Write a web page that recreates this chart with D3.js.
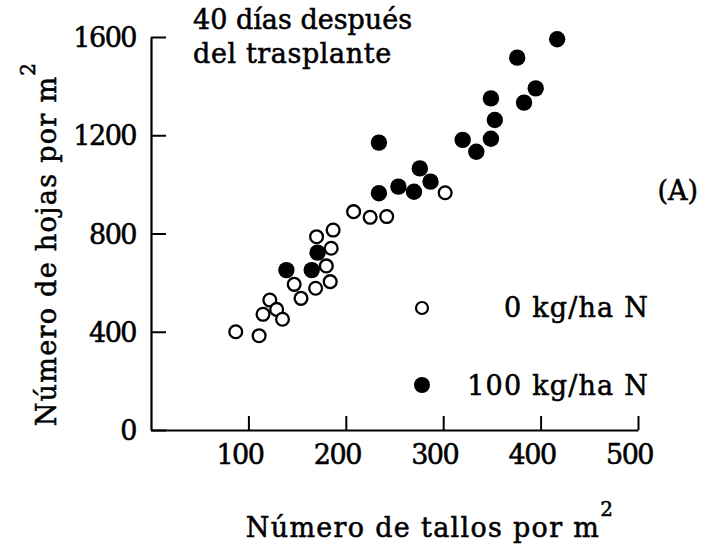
<!DOCTYPE html>
<html>
<head>
<meta charset="utf-8">
<script src="https://cdn.jsdelivr.net/npm/d3@7"></script>
<style>
  html, body { margin: 0; padding: 0; background: #fff; }
  svg text { font-family: "DejaVu Serif", "Liberation Serif", serif; fill: #000; stroke: #000; stroke-width: 0.55px; }
</style>
</head>
<body>
<svg id="chart" width="703" height="550"></svg>
<script>
// ---- data ----
const xTicks = [100, 200, 300, 400, 500];
const yTicks = [0, 400, 800, 1200, 1600];

// 0 kg/ha N (open circles)
const tallos0 = [87, 111, 115, 122, 129, 135, 147, 154, 169, 170, 180, 184, 185, 187, 208, 225, 242, 302];
const hojas0  = [400, 384, 471, 529, 491, 451, 593, 536, 577, 787, 668, 604, 740, 814, 889, 866, 869, 966];

// 100 kg/ha N (filled circles)
const tallos100 = [139, 165, 171, 234, 234, 254, 270, 276, 287, 320, 334, 349, 353, 349, 383, 376, 395, 417];
const hojas100  = [651, 651, 722, 1170, 964, 991, 970, 1065, 1011, 1181, 1133, 1186, 1262, 1350, 1333, 1516, 1391, 1591];

const legendLabels = ["0 kg/ha N", "100 kg/ha N"];
const titleLines = ["40 días después", "del trasplante"];
const panelLabel = "(A)";
const xLabel = "Número de tallos por m";
const yLabel = "Número de hojas por m";

// ---- drawing ----
const svg = d3.select("#chart");
const x = d3.scaleLinear().domain([0, 500]).range([151, 638]);
const y = d3.scaleLinear().domain([0, 1600]).range([430, 37]);
const fmt = d3.format("d");

// x axis
const gx = svg.append("g").attr("transform", `translate(0,${y(0)})`)
  .call(d3.axisBottom(x).tickValues(xTicks).tickFormat(fmt).tickSizeInner(-14).tickSizeOuter(0));
gx.select(".domain").attr("stroke", "#000").attr("stroke-width", 2.2);
gx.selectAll(".tick line").attr("stroke", "#000").attr("stroke-width", 2);
gx.selectAll(".tick text").attr("y", 34).attr("dy", 0).attr("x", -9)
  .attr("font-size", 27).attr("font-family", "DejaVu Serif").style("letter-spacing", "-1.5px");

// y axis
const gy = svg.append("g").attr("transform", `translate(${x(0)},0)`)
  .call(d3.axisLeft(y).tickValues(yTicks).tickFormat(fmt).tickSizeInner(-15).tickSizeOuter(0));
gy.select(".domain").attr("stroke", "#000").attr("stroke-width", 2.2);
gy.selectAll(".tick line").attr("stroke", "#000").attr("stroke-width", 2);
gy.selectAll(".tick text").attr("x", -15).attr("dy", "0.36em")
  .attr("font-size", 27).attr("font-family", "DejaVu Serif").style("letter-spacing", "-1.5px");

// points
const open = tallos0.map((t, i) => ({ t, h: hojas0[i] }));
const full = tallos100.map((t, i) => ({ t, h: hojas100[i] }));

svg.append("g").selectAll("circle").data(open).join("circle")
  .attr("cx", d => x(d.t)).attr("cy", d => y(d.h)).attr("r", 6.4)
  .attr("fill", "#fff").attr("stroke", "#000").attr("stroke-width", 2.3);

svg.append("g").selectAll("circle").data(full).join("circle")
  .attr("cx", d => x(d.t)).attr("cy", d => y(d.h)).attr("r", 8.2)
  .attr("fill", "#000");

// title
svg.append("text").attr("x", 193).attr("y", 29).attr("font-size", 27)
  .style("letter-spacing", "0px").text(titleLines[0]);
svg.append("text").attr("x", 193).attr("y", 63).attr("font-size", 27)
  .style("letter-spacing", "0.6px").text(titleLines[1]);

// panel label
svg.append("text").attr("x", 698).attr("y", 200).attr("text-anchor", "end")
  .attr("font-size", 27).text(panelLabel);

// legend
svg.append("circle").attr("cx", 422).attr("cy", 308).attr("r", 6)
  .attr("fill", "#fff").attr("stroke", "#000").attr("stroke-width", 2.2);
svg.append("circle").attr("cx", 422).attr("cy", 385).attr("r", 8)
  .attr("fill", "#000");
svg.append("text").attr("x", 649).attr("y", 317).attr("text-anchor", "end")
  .attr("font-size", 27).style("letter-spacing", "1.2px").text(legendLabels[0]);
svg.append("text").attr("x", 649).attr("y", 395).attr("text-anchor", "end")
  .attr("font-size", 27).style("letter-spacing", "1.2px").text(legendLabels[1]);

// x axis title
const xt = svg.append("text").attr("x", 430).attr("y", 537).attr("text-anchor", "middle")
  .attr("font-size", 27).style("letter-spacing", "1.3px");
xt.append("tspan").text(xLabel);
xt.append("tspan").attr("dy", -21).attr("font-size", 20).text("2");

// y axis title
const yt = svg.append("text").attr("transform", "translate(56,244) rotate(-90)")
  .attr("text-anchor", "middle").attr("font-size", 27).style("letter-spacing", "1.3px");
yt.append("tspan").text(yLabel);
yt.append("tspan").attr("dy", -21).attr("font-size", 20).text("2");
</script>
</body>
</html>
